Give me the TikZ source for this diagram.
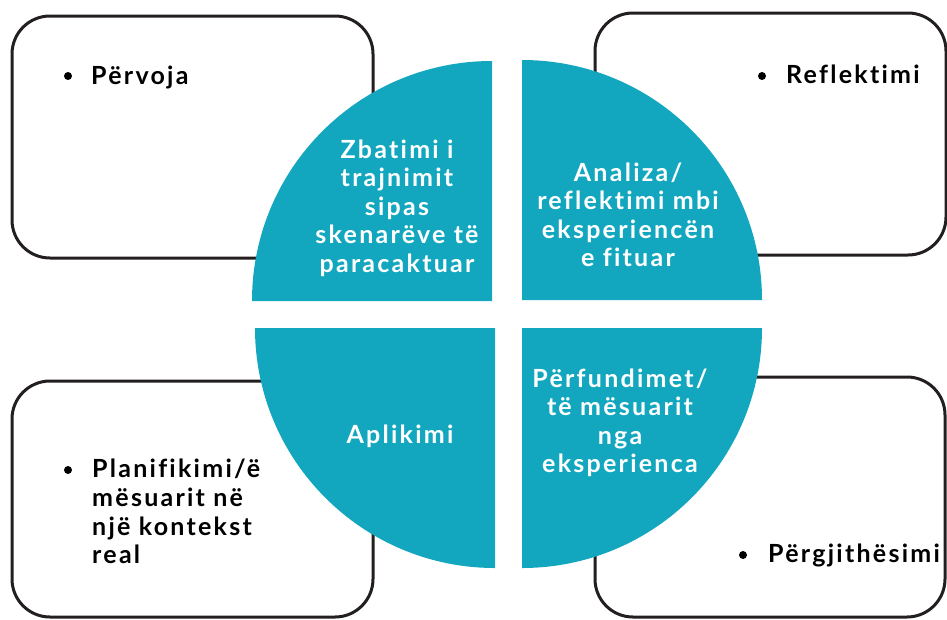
\documentclass[tikz,border=0pt]{standalone}
\usepackage{fontspec}
\usepackage{tikz}
\newfontfamily\labelfont{Lato}[LetterSpace=9, Ligatures={NoCommon}]
\definecolor{cycleteal}{RGB}{18,167,191}
\definecolor{boxline}{RGB}{35,31,32}

\begin{document}
\begin{tikzpicture}[x=1pt, y=-1pt,
    stagebox/.style={draw=boxline, line width=3pt, rounded corners=38pt, fill=white, inner sep=0pt},
    quadtext/.style={text=white, align=center, inner sep=0pt, font=\labelfont\bfseries\fontsize{25}{28.5}\selectfont},
    itemtext/.style={text=black, align=left, inner sep=0pt, font=\labelfont\bfseries\fontsize{25}{28.7}\selectfont},
    itemdot/.style={circle, fill=black, inner sep=0pt, minimum size=8pt}]
    \useasboundingbox (0,0) rectangle (947,619);

    % Corner boxes
    \node[stagebox, minimum width=361pt, minimum height=242pt] (expbox) at (192.5,137) {};
    \node[stagebox, minimum width=351pt, minimum height=242pt] (reflbox) at (770.5,134) {};
    \node[stagebox, minimum width=361pt, minimum height=236pt] (planbox) at (192.5,499) {};
    \node[stagebox, minimum width=350pt, minimum height=240pt] (genbox) at (770,497) {};

    % Quarter circles
    \fill[cycleteal] (492,301) -- ++(-240,0) arc[start angle=180, end angle=270, radius=240] -- cycle;
    \fill[cycleteal] (522,300) -- ++(0,-240) arc[start angle=270, end angle=360, radius=240] -- cycle;
    \fill[cycleteal] (495,328) -- ++(-240,0) arc[start angle=180, end angle=90, radius=240] -- cycle;
    \fill[cycleteal] (522,328) -- ++(240,0) arc[start angle=0, end angle=90, radius=240] -- cycle;

    % Quarter labels
    \node[quadtext] (training) at (397,208) {Zbatimi i\\trajnimit\\sipas\\skenarëve të\\paracaktuar};
    \node[quadtext] (analysis) at (628,215) {Analiza/\\reflektimi mbi\\eksperiencën\\e fituar};
    \node[quadtext] (apply) at (400,436) {Aplikimi};
    \node[quadtext] (lessons) at (620,423) {Përfundimet/\\të mësuarit\\nga\\eksperienca};

    % Box items
    \node[itemdot] (expdot) at (68,76) {};
    \node[itemtext, anchor=base west] (experience) at (91,84) {Përvoja};
    \node[itemdot] (refldot) at (762,76) {};
    \node[itemtext, anchor=base west] (reflection) at (786,83) {Reflektimi};
    \node[itemdot] (plandot) at (68,470) {};
    \node[itemtext, anchor=north west] (planning) at (92,459) {Planifikimi/ë\\mësuarit në\\një kontekst\\real};
    \node[itemdot] (gendot) at (743,555) {};
    \node[itemtext, anchor=base west] (generalisation) at (768,562) {Përgjithësimi};
\end{tikzpicture}
\end{document}
